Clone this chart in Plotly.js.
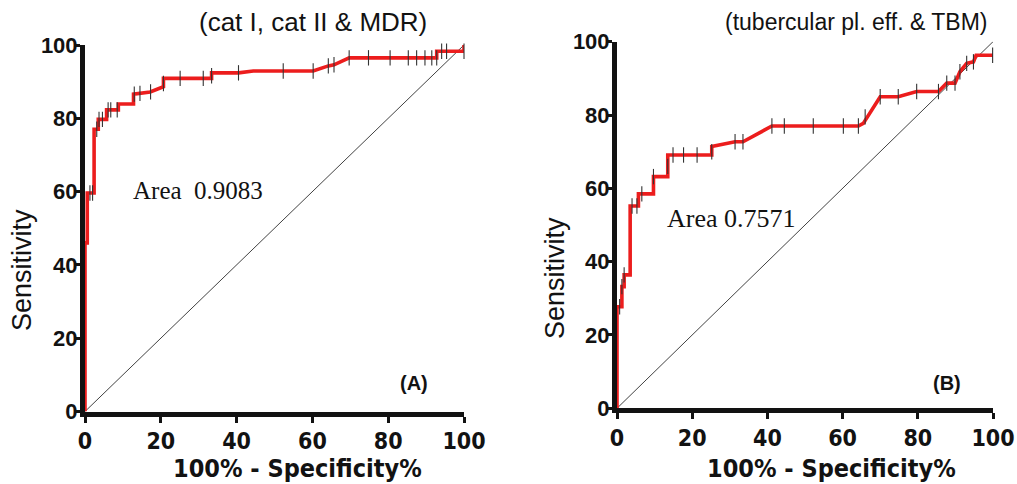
<!DOCTYPE html>
<html>
<head>
<meta charset="utf-8">
<script src="https://cdn.plot.ly/plotly-3.0.1.min.js"></script>
<style>
html,body{margin:0;padding:0;background:#fff;}
#chart{width:1017px;height:484px;}
</style>
</head>
<body>
<div id="chart"></div>
<script>
// ---- Panel A: cat I, cat II & MDR ----
const fprA  = [0,0,0.6,0.6,2.4,2.4,3.5,3.5,5.7,5.7,8.8,8.8,12.8,12.8,17.2,20.7,20.7,33.4,33.4,40.5,44.4,60.2,64.2,65.7,69.7,92.8,92.8,100,100];
const sensA = [0,46,46,59.6,59.6,77,77,79.7,79.7,82.3,82.3,83.9,83.9,86.6,87.2,88.6,90.9,90.9,92.4,92.4,92.9,92.9,94.3,94.6,96.5,96.5,98.3,98.3,100];
const markFprA  = [1.3,2.0,3.1,3.7,4.6,6.1,6.8,8.5,13.0,14.5,17.3,20.7,25.1,31.2,33.4,40.5,52.3,60.2,64.2,65.7,69.7,74.8,80.5,85.3,87.5,89.7,91.5,92.8,94.1,95.4,100];
const markSensA = [59.6,59.6,77,79.7,79.7,82.3,82.3,82.3,86.6,86.8,87.2,89.5,90.9,90.9,91.6,92.4,92.9,92.9,94.3,94.6,96.5,96.5,96.5,96.5,96.5,96.5,96.5,96.5,98.3,98.3,98.3];
const areaA = "Area  0.9083";
const titleA = "(cat I, cat II &amp; MDR)";
const tagA = "(A)";

// ---- Panel B: tubercular pl. eff. & TBM ----
const fprB  = [0,0,1.3,1.3,1.9,1.9,3.5,3.5,5.7,5.7,9.7,9.7,13.5,13.5,25.2,25.2,31.4,33.5,41.2,64.2,65.5,70.0,74.8,79.7,85.5,87.7,89.9,91.2,93.0,94.8,95.5,100];
const sensB = [0,27.7,27.7,33.2,33.2,36.4,36.4,55.2,55.2,58.5,58.5,63.2,63.2,69.1,69.1,71.4,72.7,72.7,77.0,77.0,77.7,85.0,85.0,86.4,86.4,88.7,88.7,91.8,94.1,94.5,96.3,96.3];
const markFprB  = [0.7,1.3,1.9,4.0,5.3,6.6,9.7,13.5,14.9,17.7,21.3,25.2,31.4,33.5,41.2,44.5,52.2,60.2,64.2,66.0,70.0,74.8,79.7,85.5,87.7,89.9,91.2,93.0,94.8,99.9];
const markSensB = [27.7,33.2,36.4,55.2,55.2,58.5,63.2,66,69.1,69.1,69.1,70,72.7,72.7,77.0,77.0,77.0,77.0,77.0,79.5,85.0,85.0,86.4,86.4,88.7,88.7,91.8,94.1,94.5,96.3];
const areaB = "Area 0.7571";
const titleB = "(tubercular pl. eff. &amp; TBM)";
const tagB = "(B)";

// ---- common ----
const diagX = [0,100];
const diagY = [0,100];
const tickVals = [0,20,40,60,80,100];
const xTitle = "100% - Specificity%";
const yTitle = "Sensitivity";

const RED = "#ec1d1d";
const INK = "#121212";
const SANS = "Liberation Sans, Arial, sans-serif";
const NARROW = "Liberation Sans Narrow, Arial Narrow, DejaVu Sans Condensed, sans-serif";
const SERIF = "Liberation Serif, Times New Roman, serif";

function panel(xa, ya, fx, fy, mx, my) {
  return [
    {x: diagX, y: diagY, xaxis: xa, yaxis: ya, mode: "lines", line: {color: INK, width: 0.8}, hoverinfo: "skip"},
    {x: fx, y: fy, xaxis: xa, yaxis: ya, mode: "lines", line: {color: RED, width: 3.6}, hoverinfo: "skip"},
    {x: mx, y: my, xaxis: xa, yaxis: ya, mode: "markers", cliponaxis: false,
     marker: {symbol: "line-ns-open", size: 11, color: "#333", line: {color: "#333", width: 1.1}}, hoverinfo: "skip"}
  ];
}

const data = [].concat(
  panel("x", "y", fprA, sensA, markFprA, markSensA),
  panel("x2", "y2", fprB, sensB, markFprB, markSensB)
);

function xaxis(dom, anchor) {
  return {
    domain: dom, anchor: anchor, range: [0, 100], tickvals: tickVals, ticktext: tickVals.map(String),
    showline: true, linecolor: INK, linewidth: 5, ticks: "outside", ticklen: 6, tickwidth: 3, tickcolor: INK,
    showgrid: false, zeroline: false, layer: "below traces", ticklabelstandoff: -1,
    tickfont: {family: NARROW, size: 23, color: INK, weight: "bold"}
  };
}
function yaxis(dom, anchor) {
  return {
    domain: dom, anchor: anchor, range: [0, 100], tickvals: tickVals, ticktext: tickVals.map(String),
    showline: true, linecolor: INK, linewidth: 5, ticks: "outside", ticklen: 5, tickwidth: 3, tickcolor: INK,
    showgrid: false, zeroline: false, layer: "below traces", ticklabelstandoff: -7,
    tickfont: {family: SANS, size: 22, color: INK, weight: "bold"}
  };
}

function ann(x, y, text, font, extra) {
  return Object.assign({xref: "paper", yref: "paper", x: x / 1017, y: 1 - y / 484,
    xanchor: "center", yanchor: "middle", showarrow: false, text: text, font: font}, extra || {});
}

const layout = {
  width: 1017, height: 484,
  margin: {l: 0, r: 0, t: 0, b: 0},
  paper_bgcolor: "#fff", plot_bgcolor: "#fff",
  showlegend: false,
  xaxis: xaxis([85/1017, 464/1017], "y"),
  yaxis: yaxis([72.5/484, 439/484], "x"),
  xaxis2: xaxis([617/1017, 993/1017], "y2"),
  yaxis2: yaxis([75.7/484, 442.3/484], "x2"),
  annotations: [
    ann(313, 22, titleA, {family: SANS, size: 26, color: INK}),
    ann(856, 22, titleB, {family: SANS, size: 23, color: INK}),
    ann(297, 468, xTitle, {family: NARROW, size: 25, color: INK, weight: "bold"}),
    ann(831, 468, xTitle, {family: NARROW, size: 25, color: INK, weight: "bold"}),
    ann(22, 270, yTitle, {family: SANS, size: 27, color: INK}, {textangle: -90}),
    ann(555, 278, yTitle, {family: SANS, size: 27, color: INK}, {textangle: -90}),
    {xref: "x", yref: "y", x: 12.1, y: 60.4, xanchor: "left", yanchor: "middle", showarrow: false,
     text: areaA, font: {family: SERIF, size: 25, color: INK}},
    {xref: "x2", yref: "y2", x: 12.8, y: 51.9, xanchor: "left", yanchor: "middle", showarrow: false,
     text: areaB, font: {family: SERIF, size: 26, color: INK}},
    {xref: "x", yref: "y", x: 86.8, y: 7.8, xanchor: "center", yanchor: "middle", showarrow: false,
     text: tagA, font: {family: SANS, size: 20, color: INK, weight: "bold"}},
    {xref: "x2", yref: "y2", x: 87.8, y: 6.9, xanchor: "center", yanchor: "middle", showarrow: false,
     text: tagB, font: {family: SANS, size: 20, color: INK, weight: "bold"}}
  ]
};

Plotly.newPlot("chart", data, layout, {displayModeBar: false, staticPlot: true});
</script>
</body>
</html>
